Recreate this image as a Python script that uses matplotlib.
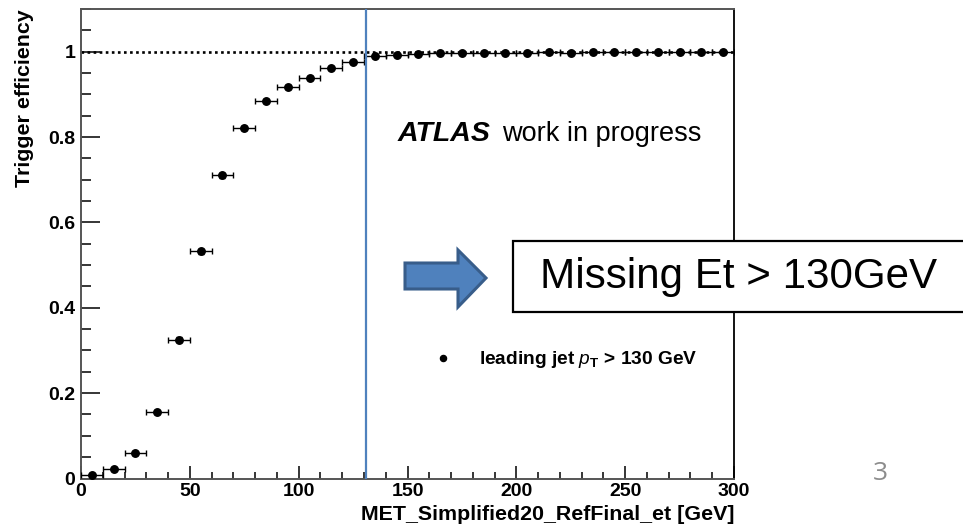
import numpy as np
import matplotlib.pyplot as plt
from matplotlib.lines import Line2D
from matplotlib.patches import Polygon, Rectangle

plt.rcParams['font.family'] = ['Liberation Sans', 'DejaVu Sans']
plt.rcParams['mathtext.fontset'] = 'custom'
plt.rcParams['mathtext.rm'] = 'Liberation Sans:bold'
plt.rcParams['mathtext.it'] = 'Liberation Sans:italic'
plt.rcParams['mathtext.bf'] = 'Liberation Sans:bold'

# ------------------------------------------------
# DATA
# ------------------------------------------------

met_center = [5, 15, 25, 35, 45, 55, 65, 75, 85, 95,
              105, 115, 125, 135, 145, 155, 165, 175, 185, 195,
              205, 215, 225, 235, 245, 255, 265, 275, 285, 295]
efficiency = [0.009, 0.022, 0.059, 0.156, 0.325, 0.532, 0.710, 0.822, 0.885, 0.917,
              0.938, 0.962, 0.976, 0.990, 0.993, 0.995, 0.997, 0.998, 0.998, 0.998,
              0.998, 0.999, 0.998, 0.999, 0.999, 0.999, 0.999, 0.999, 0.999, 0.999]
bin_half = [5] * len(met_center)
eff_err = [0.002, 0.003, 0.004, 0.005, 0.006, 0.006, 0.006, 0.005, 0.005, 0.004,
           0.004, 0.003, 0.003, 0.002, 0.002, 0.002, 0.001, 0.001, 0.001, 0.001,
           0.001, 0.001, 0.001, 0.001, 0.001, 0.001, 0.001, 0.001, 0.001, 0.001]

cut_met = 131
x_ticks = [0, 50, 100, 150, 200, 250, 300]
y_ticks = [0, 0.2, 0.4, 0.6, 0.8, 1.0]
y_tick_labels = ['0', '0.2', '0.4', '0.6', '0.8', '1']

W, H = 963, 526

# ------------------------------------------------
# FIGURE
# ------------------------------------------------

fig = plt.figure(figsize=(W / 100, H / 100), dpi=100)
ax = fig.add_axes([81 / W, 1 - 478.5 / H, (734 - 81) / W, (478.5 - 9) / H])

ax.set_xlim(0, 300)
ax.set_ylim(0, 1.1)

ax.axhline(1.0, color='black', ls=(0, (1, 1.3)), lw=1.9, zorder=2)
ax.axvline(cut_met, color='#4F81BD', lw=1.6, zorder=4)

ax.errorbar(met_center, efficiency, xerr=bin_half, yerr=eff_err,
            fmt='o', color='black', ms=5.4, elinewidth=1, capsize=2.5,
            capthick=1, zorder=3)

ax.set_xticks(x_ticks)
ax.set_xticks(np.arange(0, 301, 10), minor=True)
ax.set_yticks(y_ticks)
ax.set_yticklabels(y_tick_labels)
ax.set_yticks(np.arange(0, 1.101, 0.05), minor=True)

ax.tick_params(axis='both', which='both', direction='in', top=False, right=False)
ax.tick_params(axis='y', which='major', length=14, width=1.1, labelsize=14, pad=4)
ax.tick_params(axis='y', which='minor', length=7.5, width=1.1)
ax.tick_params(axis='x', which='major', length=9.5, width=1.1, labelsize=14, pad=3)
ax.tick_params(axis='x', which='minor', length=5, width=1.1)
for lbl in ax.get_xticklabels() + ax.get_yticklabels():
    lbl.set_fontweight('bold')

for side in ['top', 'left', 'bottom']:
    ax.spines[side].set_color('#555555')
    ax.spines[side].set_linewidth(1.4)
ax.spines['right'].set_color('black')
ax.spines['right'].set_linewidth(1.3)

fig.text(24 / W, 1 - 9 / H, 'Trigger efficiency', rotation=90,
         ha='center', va='top', fontsize=15.4, fontweight='bold')
fig.text(734 / W, 1 - 515 / H, 'MET_Simplified20_RefFinal_et [GeV]',
         ha='right', va='center', fontsize=15.4, fontweight='bold')

fig.text(398 / W, 1 - 141 / H, 'ATLAS', ha='left', va='baseline',
         fontsize=20.5, fontweight='bold', fontstyle='italic')
fig.text(502 / W, 1 - 141 / H, 'work in progress', ha='left', va='baseline',
         fontsize=19.5)

leg_fs = 13.8
leg_handle = Line2D([], [], marker='o', ls='none', color='black', ms=4.4)
ax.legend([leg_handle], [r'leading jet $p_{\mathrm{T}}$ > 130 GeV'],
          loc='center left', bbox_to_anchor=(433.5 / W, 1 - 360 / H),
          bbox_transform=fig.transFigure, frameon=False, handlelength=1.0,
          handletextpad=1.38, borderpad=0, borderaxespad=0,
          prop={'weight': 'bold', 'size': leg_fs})

# arrow and text box overlay
arrow_px = [(405, 263), (458, 263), (458, 250), (486, 278),
            (458, 307), (458, 289), (405, 289)]
arrow = Polygon([(x / W, 1 - y / H) for x, y in arrow_px], closed=True,
                transform=fig.transFigure, fc='#4F81BD', ec='#385D8A', lw=2.2,
                zorder=10)
fig.patches.append(arrow)

box = Rectangle((513 / W, 1 - 312 / H), (980 - 513) / W, (312 - 241) / H,
                transform=fig.transFigure, fc='white', ec='black', lw=1.6,
                zorder=10, clip_on=False)
fig.patches.append(box)
fig.text(540 / W, 1 - 277 / H, 'Missing Et > 130GeV', ha='left', va='center',
         fontsize=30.3, zorder=11)

fig.text(880 / W, 1 - 473 / H, '3', ha='center', va='center', fontsize=19,
         color='#8C8C8C', family=['Open Sans', 'DejaVu Sans'])

fig.savefig('out.png', dpi=100)
